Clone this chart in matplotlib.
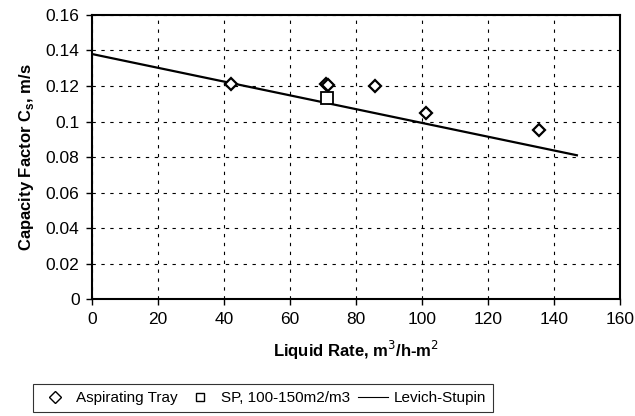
import matplotlib.pyplot as plt
import numpy as np

plt.rcParams['font.family'] = ['Liberation Sans', 'DejaVu Sans']

# data
tray_x = [42.1, 71.0, 71.6, 85.8, 101.4, 135.5]
tray_y = [0.1212, 0.1210, 0.1205, 0.1198, 0.1046, 0.0952]
sp_x = [71.1]
sp_y = [0.1132]
levich_x = [0, 147]
levich_y = [0.138, 0.0810]

x_ticks = [0, 20, 40, 60, 80, 100, 120, 140, 160]
y_ticks = [0, 0.02, 0.04, 0.06, 0.08, 0.1, 0.12, 0.14, 0.16]
y_labels = ['0', '0.02', '0.04', '0.06', '0.08', '0.1', '0.12', '0.14', '0.16']

fig = plt.figure(figsize=(6.35, 4.16), dpi=100)
ax = fig.add_axes([0.145, 0.281, 0.831, 0.683])

ax.plot(tray_x, tray_y, linestyle='none', marker='D', markersize=6.5,
        markerfacecolor='white', markeredgecolor='black', markeredgewidth=1.6,
        label='Aspirating Tray', zorder=4)
ax.plot(sp_x, sp_y, linestyle='none', marker='s', markersize=9,
        markerfacecolor='white', markeredgecolor='black', markeredgewidth=1.3,
        label='SP, 100-150m2/m3', zorder=3)
ax.plot(levich_x, levich_y, color='black', linewidth=1.6, label='Levich-Stupin', zorder=2)

ax.set_xlim(0, 160)
ax.set_ylim(0, 0.16)
ax.set_xticks(x_ticks)
ax.set_yticks(y_ticks)
ax.set_yticklabels(y_labels)
ax.tick_params(labelsize=12.5, direction='out', length=4, width=1, pad=5)
ax.grid(True, color='black', linestyle=(0, (3, 5)), linewidth=0.8)
for s in ax.spines.values():
    s.set_linewidth(1.5)

ax.set_xlabel('Liquid Rate, m$^3$/h-m$^2$', fontsize=12, fontweight='bold', labelpad=9)
ax.set_ylabel('Capacity Factor C$_\\mathregular{s}$, m/s', fontsize=12, fontweight='bold', labelpad=7)

leg = fig.legend(loc='center', bbox_to_anchor=(0.414, 0.0425), ncol=3, fontsize=11,
                 frameon=True, fancybox=False, edgecolor='black', handlelength=2.0,
                 handletextpad=0.35, columnspacing=0.5, borderpad=0.45, borderaxespad=0.1)
leg.get_frame().set_linewidth(0.8)
for h in leg.legend_handles[:2]:
    h.set_markeredgewidth(1.0)
    h.set_markersize(6)
leg.legend_handles[2].set_linewidth(0.8)

fig.savefig('out.png', dpi=100)
